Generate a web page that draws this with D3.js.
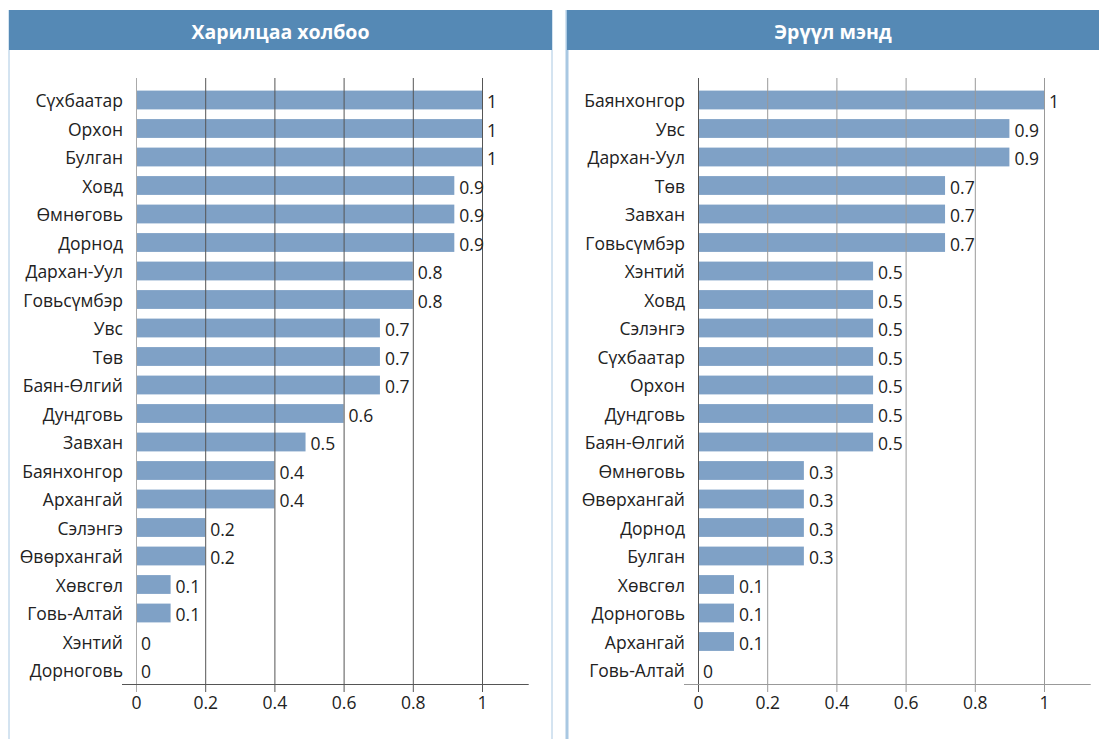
<!DOCTYPE html>
<html>
<head>
<meta charset="utf-8">
<script src="https://cdn.jsdelivr.net/npm/d3@7"></script>
<style>
  body { margin: 0; background: #fff; }
  svg { font-family: "Open Sans", "Noto Sans", sans-serif; }
</style>
</head>
<body>
<svg id="chart" width="1099" height="739"></svg>
<script>
// left panel
let leftTitle = "Харилцаа холбоо";
let leftCats = ["Сүхбаатар", "Орхон", "Булган", "Ховд", "Өмнөговь", "Дорнод", "Дархан-Уул",
    "Говьсүмбэр", "Увс", "Төв", "Баян-Өлгий", "Дундговь", "Завхан", "Баянхонгор", "Архангай",
    "Сэлэнгэ", "Өвөрхангай", "Хөвсгөл", "Говь-Алтай", "Хэнтий", "Дорноговь"];
let leftVals = [1, 1, 1, 0.92, 0.92, 0.92, 0.8, 0.8, 0.705, 0.705, 0.705, 0.6, 0.49, 0.4, 0.4,
    0.2, 0.2, 0.1, 0.1, 0, 0];

// right panel
let rightTitle = "Эрүүл мэнд";
let rightCats = ["Баянхонгор", "Увс", "Дархан-Уул", "Төв", "Завхан", "Говьсүмбэр", "Хэнтий",
    "Ховд", "Сэлэнгэ", "Сүхбаатар", "Орхон", "Дундговь", "Баян-Өлгий", "Өмнөговь", "Өвөрхангай",
    "Дорнод", "Булган", "Хөвсгөл", "Дорноговь", "Архангай", "Говь-Алтай"];
let rightVals = [1, 0.9, 0.9, 0.714, 0.714, 0.714, 0.506, 0.506, 0.506, 0.506, 0.506, 0.506, 0.506,
    0.306, 0.306, 0.306, 0.306, 0.104, 0.104, 0.104, 0];

let tickVals = [0, 0.2, 0.4, 0.6, 0.8, 1];

let svg = d3.select("#chart");
let fs = 17.5;

function panel(opts){
    let g = svg.append("g");

    // frame + title bar
    g.append("line")
        .attr("x1", opts.frameL).attr("x2", opts.frameL)
        .attr("y1", 10).attr("y2", 739)
        .attr("stroke", "#a9c8e2").attr("stroke-width", opts.frameW);
    if(opts.frameR){
        g.append("line")
            .attr("x1", opts.frameR).attr("x2", opts.frameR)
            .attr("y1", 10).attr("y2", 739)
            .attr("stroke", "#a9c8e2").attr("stroke-width", 1);
    }
    g.append("rect")
        .attr("x", opts.frameL).attr("y", 10)
        .attr("width", opts.titleW).attr("height", 40)
        .attr("fill", "#5589b5");
    g.append("text")
        .attr("x", opts.frameL + opts.titleW / 2).attr("y", 31)
        .attr("text-anchor", "middle").attr("dominant-baseline", "central")
        .attr("fill", "#fff").attr("font-weight", "bold").attr("font-size", 19.5)
        .text(opts.title);

    let x = d3.scaleLinear().domain([0, 1]).range([opts.x0, opts.x0 + 346]);
    let y = d3.scaleBand().domain(opts.cats).range([85.75, 684.25]).paddingInner(0.34).paddingOuter(0.17);

    // bars
    g.selectAll("rect.bar")
        .data(opts.vals)
        .enter().append("rect")
        .attr("class", "bar")
        .attr("x", x(0))
        .attr("y", (d, i) => y(opts.cats[i]))
        .attr("width", d => x(d) - x(0))
        .attr("height", y.bandwidth())
        .attr("fill", "#7fa1c6");

    // grid lines on top of bars
    g.selectAll("line.grid")
        .data(tickVals)
        .enter().append("line")
        .attr("class", "grid")
        .attr("x1", d => x(d) + 0.5).attr("x2", d => x(d) + 0.5)
        .attr("y1", 78).attr("y2", 692)
        .attr("stroke", d => d === 0 ? opts.zeroColor : opts.gridColor)
        .attr("stroke-width", 1);

    // axis line
    g.append("line")
        .attr("x1", x(0) - 14).attr("x2", x(1.135))
        .attr("y1", 684.5).attr("y2", 684.5)
        .attr("stroke", opts.gridColor);

    let axis = g.append("g")
        .attr("transform", "translate(0,684)")
        .call(d3.axisBottom(x).tickValues(tickVals).tickSize(0).tickPadding(13)
            .tickFormat(d3.format("~g")));
    axis.select(".domain").remove();
    axis.attr("font-size", fs).attr("font-family", null);
    axis.selectAll("text").attr("fill", "#222");

    // category labels
    g.selectAll("text.cat")
        .data(opts.cats)
        .enter().append("text")
        .attr("class", "cat")
        .attr("x", x(0) - 13)
        .attr("y", d => y(d) + y.bandwidth() / 2)
        .attr("text-anchor", "end").attr("dominant-baseline", "central")
        .attr("font-size", fs).attr("fill", "#222")
        .text(d => d);

    // value labels
    g.selectAll("text.val")
        .data(opts.vals)
        .enter().append("text")
        .attr("class", "val")
        .attr("x", d => x(d) + 5)
        .attr("y", (d, i) => y(opts.cats[i]) + y.bandwidth() / 2 + 1)
        .attr("dominant-baseline", "central")
        .attr("font-size", fs).attr("fill", "#222")
        .text(d => String(+d.toFixed(1)));
}

panel({title: leftTitle, cats: leftCats, vals: leftVals, x0: 136,
    frameL: 9, frameR: 552, frameW: 1, titleW: 543, gridColor: "#555", zeroColor: "#aaa"});
panel({title: rightTitle, cats: rightCats, vals: rightVals, x0: 698,
    frameL: 567, frameR: null, frameW: 3, titleW: 532, gridColor: "#999", zeroColor: "#555"});
</script>
</body>
</html>
